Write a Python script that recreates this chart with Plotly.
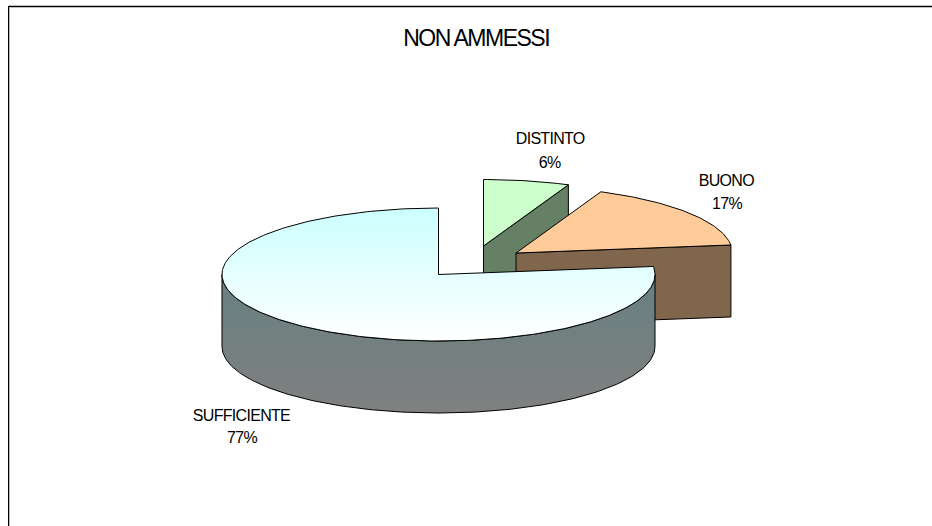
import numpy as np
import plotly.graph_objects as go

categories = ["DISTINTO", "BUONO", "SUFFICIENTE"]
counts = [5, 13, 60]
title_text = "NON AMMESSI"

# slice geometry (drawing constants, in page pixels)
centers = [(483.5, 246.0), (516.0, 253.0), (438.5, 274.5)]
RX, RY, DEPTH = 216.5, 66.5, 72.0
top_colors = ["#CCFFCC", "#FFCC99", None]
wall_colors = ["#668066", "#80664D", None]
label_pos = [(549.5, 138, 162), (726.5, 180, 203), (241.5, 415, 437)]
W, H = 932, 526

total = sum(counts)
edges = np.concatenate([[0.0], np.cumsum(counts)]) / total * 2 * np.pi


def arc(c, a0, a1, dy=0.0):
    t = np.linspace(a0, a1, max(int(abs(a1 - a0) * 60), 2))
    return c[0] + RX * np.sin(t), c[1] - RY * np.cos(t) + dy


def top_face(c, a0, a1):
    x, y = arc(c, a0, a1)
    return np.r_[c[0], x, c[0]], np.r_[c[1], y, c[1]]


def add(x, y, name, color=None, grad=None):
    tr = dict(x=x, y=y, mode="lines", fill="toself", name=name, showlegend=False,
              hoverinfo="skip", line=dict(color="#000000", width=1))
    if grad is not None:
        tr["fillgradient"] = dict(type="vertical", start=grad[0], stop=grad[1],
                                  colorscale=[[0, grad[2]], [1, grad[3]]])
    else:
        tr["fillcolor"] = color
    fig.add_trace(go.Scatter(**tr))


fig = go.Figure()

# Exploded slices, back to front
for i in (0, 1):
    c, a0, a1 = centers[i], edges[i], edges[i + 1]
    ex, ey = arc(c, a1, a1)
    ex, ey = ex[0], ey[0]
    add([c[0], ex, ex, c[0], c[0]], [c[1], ey, ey + DEPTH, c[1] + DEPTH, c[1]],
        categories[i] + " wall", wall_colors[i])
    x, y = top_face(c, a0, a1)
    add(x, y, categories[i], top_colors[i])

# Large slice: rim (visible front half only) then top
c = centers[2]
a0, a1 = edges[2], edges[3]
tx, ty = arc(c, 0.5 * np.pi, 1.5 * np.pi)
bx, by = arc(c, 0.5 * np.pi, 1.5 * np.pi, DEPTH)
add(np.r_[tx, bx[::-1], tx[0]], np.r_[ty, by[::-1], ty[0]], categories[2] + " wall",
    grad=(c[1] - 8, c[1] + RY + DEPTH, "#668080", "#808080"))
x, y = top_face(c, a0, a1)
add(x, y, categories[2], grad=(c[1] - RY, c[1] + RY, "#CCFFFF", "#FFFFFF"))

anns = [dict(x=476, y=37.5, text=title_text, font=dict(size=23))]
for i, (lx, y1, y2) in enumerate(label_pos):
    anns.append(dict(x=lx, y=y1, text=categories[i], font=dict(size=16)))
    anns.append(dict(x=lx, y=y2, text=f"{round(counts[i] / total * 100)}%", font=dict(size=16)))
for a in anns:
    a.update(showarrow=False, xref="x", yref="y", xanchor="center", yanchor="middle")
    a["font"].update(family="Liberation Sans, Arial, sans-serif", color="#000000")

shapes = [
    dict(type="line", x0=8.5, x1=W, y0=6.5, y1=6.5, line=dict(color="#000000", width=1.5)),
    dict(type="line", x0=9.5, x1=9.5, y0=7, y1=H, line=dict(color="#BBBBBB", width=1)),
    dict(type="line", x0=8.5, x1=8.5, y0=6, y1=H, line=dict(color="#000000", width=1)),
]

fig.update_layout(
    width=W, height=H, margin=dict(l=0, r=0, t=0, b=0),
    paper_bgcolor="#FFFFFF", plot_bgcolor="#FFFFFF",
    xaxis=dict(range=[0, W], visible=False, fixedrange=True),
    yaxis=dict(range=[H, 0], visible=False, fixedrange=True),
    annotations=anns, shapes=shapes, showlegend=False,
)
page_script = """
document.body.style.margin = '0';
document.querySelectorAll('.annotation-text').forEach(function (t) {
  t.style.letterSpacing = parseFloat(t.style.fontSize) > 20 ? '-1.5px' : '-0.7px';
});
"""
fig.write_html("out.html", config={"displayModeBar": False}, post_script=page_script)
